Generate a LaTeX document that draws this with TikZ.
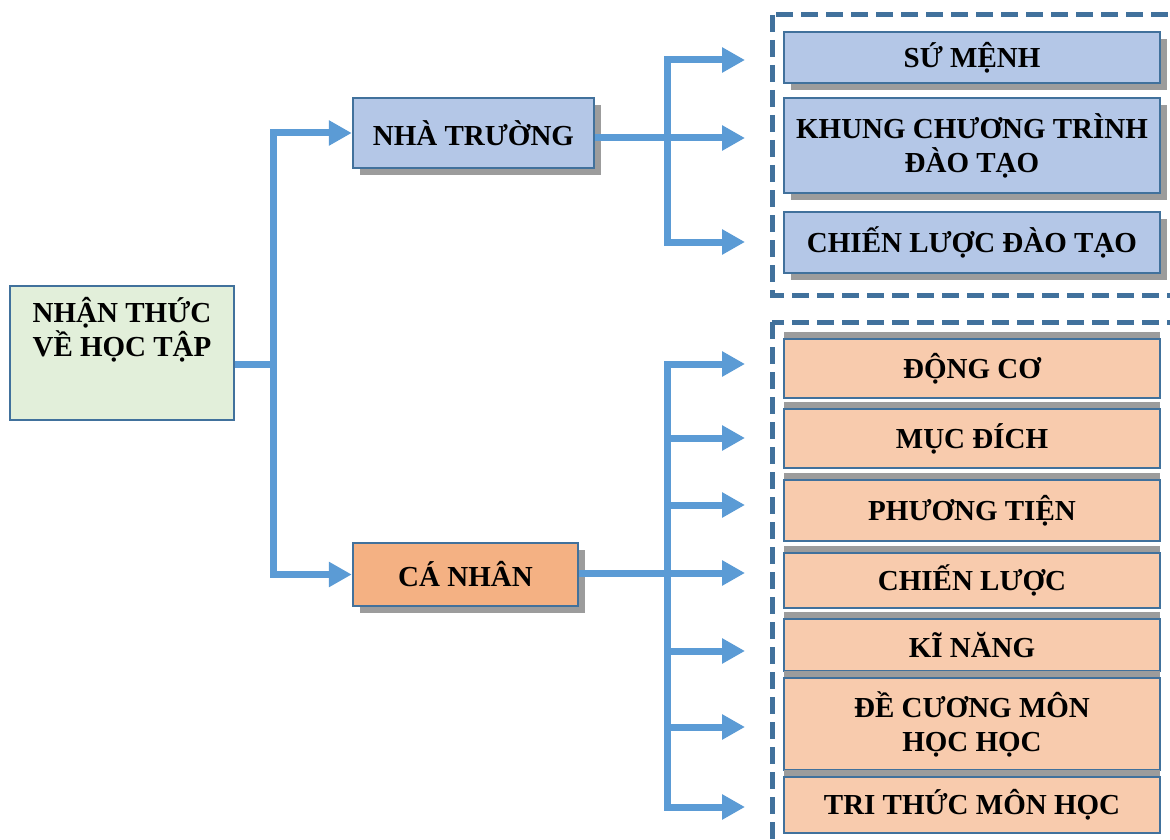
\documentclass[tikz,border=0pt]{standalone}
\usepackage{fontspec}
\setmainfont{Liberation Serif}
\usetikzlibrary{arrows.meta,positioning}

\definecolor{linkblue}{HTML}{5B9BD5}
\definecolor{edgeblue}{HTML}{41719C}
\definecolor{schoolfill}{HTML}{B4C7E7}
\definecolor{selffill}{HTML}{F4B183}
\definecolor{itemfill}{HTML}{F8CBAD}
\definecolor{rootfill}{HTML}{E2EFDA}
\definecolor{shadowgray}{HTML}{9C9C9C}

\begin{document}
\begin{tikzpicture}[x=1pt,y=-1pt,
  box/.style={draw=edgeblue, line width=2.5pt, inner sep=2pt, align=center, font=\bfseries\fontsize{29}{34}\selectfont},
  downshadow/.style={preaction={fill=shadowgray, transform canvas={xshift=7pt,yshift=-7pt}}},
  upshadow/.style={preaction={fill=shadowgray, transform canvas={yshift=7pt}}},
  schoolbox/.style={box, downshadow, fill=schoolfill, minimum width=376pt},
  itembox/.style={box, upshadow, fill=itemfill, minimum width=376pt},
  link/.style={draw=linkblue, line width=7pt},
  linkarrow/.style={link, -{Triangle[length=23pt,width=24pt]}},
  frame/.style={draw=edgeblue, line width=5pt, dash pattern=on 17pt off 8pt}]
 \pgfmathsetmacro{\xtrunk}{273} % first vertical bar
 \pgfmathsetmacro{\xhub}{667}   % second vertical bars
 \pgfmathsetmacro{\xtip}{745}   % where the arrows stop
 \pgfmathsetmacro{\xitem}{972}  % centre of the right column

\useasboundingbox (0,0) rectangle (1170,840);
\clip (0,0) rectangle (1170,840);

% dashed frames round the right column (they run past the page edge)
\begin{scope}
  \draw[frame] (772,15) rectangle (1190,295);
  \draw[frame] (772,322) rectangle (1190,860);
\end{scope}

% root box
\node[box, fill=rootfill, minimum width=224pt, minimum height=134pt] (root) at (122,353) {};
\node[font=\bfseries\fontsize{29}{34}\selectfont, align=center] (rootT) at (122,330) {NHẬN THỨC\\VỀ HỌC TẬP};

% the two branches
\node[box, downshadow, fill=schoolfill, minimum width=241pt, minimum height=70pt] (school) at (473.5,133) {NHÀ TRƯỜNG};
\node[box, downshadow, fill=selffill, minimum width=225pt, minimum height=63pt] (self) at (465.5,574.5) {CÁ NHÂN};

% right column, upper part
\node[schoolbox, minimum height=51pt] (sumenh) at (\xitem,57.5) {SỨ MỆNH};
\node[schoolbox, minimum height=95pt] (khung) at (\xitem,145.5) {KHUNG CHƯƠNG TRÌNH\\ĐÀO TẠO};
\node[schoolbox, minimum height=61pt] (chienluocdt) at (\xitem,242.5) {CHIẾN LƯỢC ĐÀO TẠO};

% right column, lower part
\node[itembox, minimum height=59pt] (dongco) at (\xitem,368.5) {ĐỘNG CƠ};
\node[itembox, minimum height=59pt] (mucdich) at (\xitem,438.5) {MỤC ĐÍCH};
\node[itembox, minimum height=61pt] (phuongtien) at (\xitem,510.5) {PHƯƠNG TIỆN};
\node[itembox, minimum height=55pt] (chienluoc) at (\xitem,580.5) {CHIẾN LƯỢC};
\node[itembox, minimum height=52pt] (kinang) at (\xitem,645) {KĨ NĂNG};
\node[itembox, minimum height=92pt] (decuong) at (\xitem,724) {ĐỀ CƯƠNG MÔN\\HỌC HỌC};
\node[itembox, minimum height=56pt] (trithuc) at (\xitem,805) {TRI THỨC MÔN HỌC};

% arrows from the root
\coordinate (trunk) at (\xtrunk,364);
\draw[link] (root.east |- trunk) -- (trunk);
\draw[linkarrow] (trunk) |- (school.west);
\draw[linkarrow] (trunk) |- (self.west);

% arrows from NHA TRUONG
\coordinate (hubA) at (\xhub,138);
\foreach \y [count=\i] in {60,138,242}
  \coordinate (tipA\i) at (\xtip,\y);
\draw[linkarrow] (school.east |- hubA) -- (tipA2);
\foreach \i in {1,3}
  \draw[linkarrow] (hubA) |- (tipA\i);

% arrows from CA NHAN
\coordinate (hubB) at (\xhub,573);
\foreach \y [count=\i] in {364,438,505,573,651,727,807}
  \coordinate (tipB\i) at (\xtip,\y);
\draw[linkarrow] (self.east |- hubB) -- (tipB4);
\foreach \i in {1,2,3,5,6,7}
  \draw[linkarrow] (hubB) |- (tipB\i);

\end{tikzpicture}
\end{document}
